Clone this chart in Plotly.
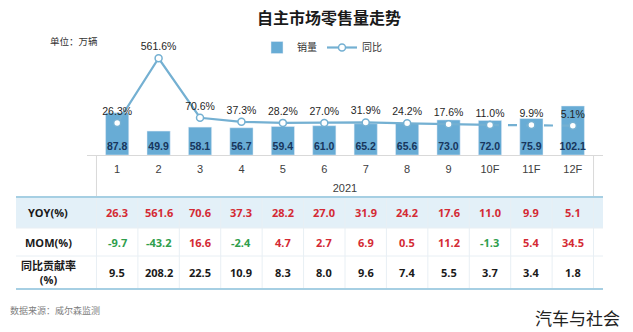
import plotly.graph_objects as go

# Monthly retail volume (10k units) and growth rates, 2021; F = forecast
months = ["1", "2", "3", "4", "5", "6", "7", "8", "9", "10F", "11F", "12F"]
sales = [87.8, 49.9, 58.1, 56.7, 59.4, 61.0, 65.2, 65.6, 73.0, 72.0, 75.9, 102.1]
yoy = [26.3, 561.6, 70.6, 37.3, 28.2, 27.0, 31.9, 24.2, 17.6, 11.0, 9.9, 5.1]
mom = [-9.7, -43.2, 16.6, -2.4, 4.7, 2.7, 6.9, 0.5, 11.2, -1.3, 5.4, 34.5]
contrib = [9.5, 208.2, 22.5, 10.9, 8.3, 8.0, 9.6, 7.4, 5.5, 3.7, 3.4, 1.8]
year_label = "2021"
row_labels = ["YOY(%)", "MOM(%)", "同比贡献率<br>(%)"]

W, H = 633, 332


def px(x):
    return x / W


def py(y):
    return 1 - y / H


BAR = "#68acd5"
LINE = "#74b0d2"
RED = "#d42a34"
GREEN = "#2f9e4c"
CJK = "Noto Sans CJK SC"
NUM = "Liberation Sans"
TBL = "Open Sans, Noto Sans CJK SC"

# first forecast month: the line turns dashed after it
split = months.index("10F")

fig = go.Figure()

fig.add_trace(go.Bar(
    x=months, y=sales, name="销量", marker_color=BAR,
    text=[f"{v:.1f}" for v in sales], textposition="inside",
    insidetextanchor="start", textangle=0, constraintext="none",
    textfont=dict(family=NUM, size=10.5, color="#17365d", weight="bold"),
    hoverinfo="skip",
))

fig.add_trace(go.Scatter(
    x=months[:split + 1], y=yoy[:split + 1], yaxis="y2", name="同比",
    mode="lines+markers+text",
    line=dict(color=LINE, width=2.2),
    marker=dict(size=7, color="white", line=dict(color=LINE, width=1.5)),
    text=[f"{v:.1f}%" for v in yoy[:split + 1]], textposition="top center",
    textfont=dict(family=NUM, size=10.5, color="#1f1f1f"),
    cliponaxis=False, hoverinfo="skip",
))

fig.add_trace(go.Scatter(
    x=months[split:], y=yoy[split:], yaxis="y2", name="同比", showlegend=False,
    mode="lines+markers+text",
    line=dict(color=LINE, width=2.2, dash="dash"),
    marker=dict(size=7, color="white", line=dict(color=LINE, width=1.5)),
    text=[""] + [f"{v:.1f}%" for v in yoy[split + 1:]], textposition="top center",
    textfont=dict(family=NUM, size=10.5, color="#1f1f1f"),
    cliponaxis=False, hoverinfo="skip",
))

shapes = []
annotations = []

# frame around the category labels
for xv in (-0.5, len(months) - 0.5):
    shapes.append(dict(type="line", xref="x", yref="paper", x0=xv, x1=xv,
                       y0=py(155), y1=py(197), line=dict(color="#d9d9d9", width=1)))

# data table under the chart
tbl_left, tbl_top, tbl_bottom = 16, 197, 289
row_bounds = [(197, 228), (228, 256), (256, 289)]
shapes.append(dict(type="rect", xref="paper", yref="paper", x0=px(tbl_left), x1=px(603),
                   y0=py(row_bounds[0][1]), y1=py(row_bounds[0][0]),
                   fillcolor="#e3f0f8", line=dict(width=0), layer="below"))
for yv in (228, 256):
    shapes.append(dict(type="line", xref="paper", yref="paper", x0=px(tbl_left), x1=px(603),
                       y0=py(yv), y1=py(yv), line=dict(color="#e8eff4", width=1)))
for k in range(len(months) + 1):
    xv = k - 0.5
    shapes.append(dict(type="line", xref="x", yref="paper", x0=xv, x1=xv,
                       y0=py(tbl_top), y1=py(tbl_bottom), line=dict(color="#e8eff4", width=1)))
for yv in (tbl_top, tbl_bottom):
    shapes.append(dict(type="line", xref="paper", yref="paper", x0=px(tbl_left), x1=px(603),
                       y0=py(yv), y1=py(yv), line=dict(color="#a6cfe3", width=2)))

row_values = [yoy, mom, contrib]
row_colors = [
    [RED if v >= 0 else GREEN for v in yoy],
    [RED if v >= 0 else GREEN for v in mom],
    ["#1a1a1a"] * len(contrib),
]
for r, (label, vals, cols) in enumerate(zip(row_labels, row_values, row_colors)):
    yc = py((row_bounds[r][0] + row_bounds[r][1]) / 2)
    annotations.append(dict(x=px(48), y=yc, xref="paper", yref="paper", text=label,
                            showarrow=False, xanchor="center", yanchor="middle",
                            font=dict(family=TBL, size=11, color="#1a1a1a", weight="bold")))
    # category position by index, so numeric-looking month names stay aligned
    for i, (v, c) in enumerate(zip(vals, cols)):
        annotations.append(dict(x=i, y=yc, xref="x", yref="paper", text=f"{v:.1f}",
                                showarrow=False, xanchor="center", yanchor="middle",
                                font=dict(family=TBL, size=11, color=c, weight="bold")))

annotations.append(dict(x=px(48), y=py(41), xref="paper", yref="paper", text="单位：万辆",
                        showarrow=False, xanchor="left", yanchor="middle",
                        font=dict(family=CJK, size=9.5, color="#333333")))
annotations.append(dict(x=px(8), y=py(310), xref="paper", yref="paper", text="数据来源：威尔森监测",
                        showarrow=False, xanchor="left", yanchor="middle",
                        font=dict(family=CJK, size=9, color="#808080")))
annotations.append(dict(x=px(622), y=py(317), xref="paper", yref="paper", text="汽车与社会",
                        showarrow=False, xanchor="right", yanchor="middle",
                        font=dict(family=CJK, size=17, color="#222222")))

fig.update_layout(
    width=W, height=H,
    margin=dict(l=0, r=0, t=0, b=0),
    paper_bgcolor="white", plot_bgcolor="white",
    title=dict(text="自主市场零售量走势", x=px(329), y=py(18), xanchor="center",
               yanchor="middle", font=dict(family=CJK, size=16, color="#1a1a1a", weight="bold")),
    xaxis=dict(domain=[px(87), px(603)], type="category", showline=True,
               linecolor="#d9d9d9", linewidth=1, ticks="", showgrid=False,
               ticklabelstandoff=4,
               tickfont=dict(family=NUM, size=11, color="#404040"),
               title=dict(text=year_label, standoff=10,
                          font=dict(family=NUM, size=11, color="#404040"))),
    yaxis=dict(domain=[py(155), py(50)], range=[0, 218.75], visible=False),
    yaxis2=dict(overlaying="y", range=[-237, 630], visible=False),
    bargap=0.44,
    showlegend=True,
    legend=dict(orientation="h", x=px(257), y=py(33), xanchor="left", yanchor="top",
                font=dict(family=CJK, size=10, color="#333333"),
                itemwidth=30, bgcolor="rgba(0,0,0,0)"),
    shapes=shapes,
    annotations=annotations,
)

fig.write_html("out.html")
